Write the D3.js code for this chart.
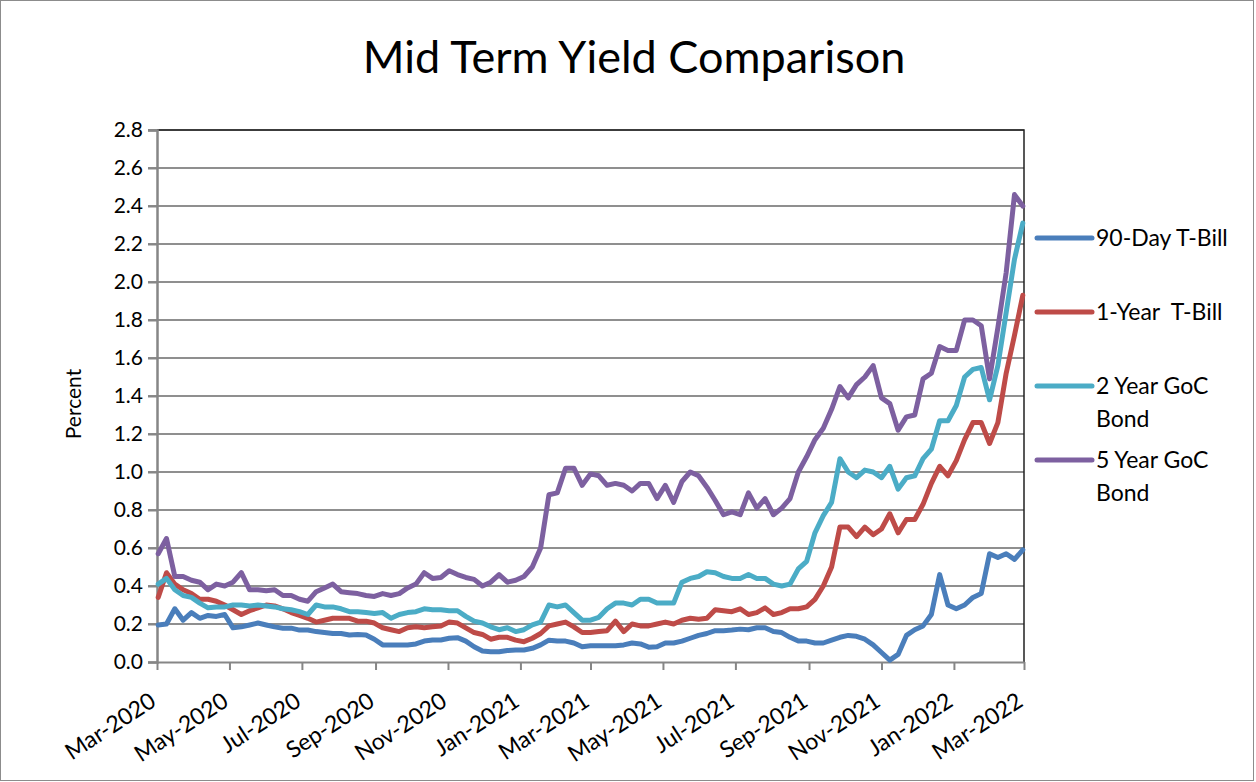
<!DOCTYPE html>
<html>
<head>
<meta charset="utf-8">
<script src="https://cdn.jsdelivr.net/npm/d3@7"></script>
<style>
	body { margin: 0; background: #ffffff; }
	text { font-family: Lato, "Open Sans", sans-serif; fill: #000000; }
</style>
</head>
<body>
<div id="vis"></div>
<script>
// mid term yield comparison - line chart

// declare constants
const FRAME_HEIGHT = 782;
const FRAME_WIDTH = 1256;
const MARGINS = {left: 157, right: 232,
				top: 130, bottom: 120};

const VIS_HEIGHT = FRAME_HEIGHT - MARGINS.top - MARGINS.bottom;
const VIS_WIDTH = FRAME_WIDTH - MARGINS.left - MARGINS.right;

// weekly observation dates (mondays), mar 2020 - feb 2022
const WEEKS = d3.timeDay.range(new Date(2020, 2, 2), new Date(2022, 2, 1), 7);

// yields in percent, one value per week
const T_BILL_90 = [
	0.195, 0.20, 0.28, 0.22, 0.26, 0.23, 0.245, 0.24, 0.25, 0.18,
	0.185, 0.195, 0.205, 0.195, 0.185, 0.178, 0.178, 0.168, 0.168, 0.16,
	0.155, 0.15, 0.15, 0.142, 0.145, 0.142, 0.12, 0.09, 0.09, 0.09,
	0.09, 0.095, 0.11, 0.116, 0.116, 0.125, 0.128, 0.11, 0.08, 0.058,
	0.054, 0.054, 0.06, 0.063, 0.063, 0.072, 0.09, 0.115, 0.11, 0.11,
	0.10, 0.08, 0.085, 0.085, 0.085, 0.085, 0.09, 0.10, 0.095, 0.078,
	0.08, 0.10, 0.10, 0.11, 0.125, 0.14, 0.15, 0.165, 0.165, 0.168,
	0.173, 0.17, 0.18, 0.18, 0.16, 0.155, 0.13, 0.11, 0.11, 0.10,
	0.10, 0.115, 0.13, 0.14, 0.135, 0.12, 0.09, 0.05, 0.01, 0.04,
	0.14, 0.17, 0.19, 0.25, 0.46, 0.30, 0.28, 0.30, 0.34, 0.36,
	0.57, 0.55, 0.57, 0.54, 0.59];

const T_BILL_1Y = [
	0.34, 0.47, 0.41, 0.38, 0.36, 0.33, 0.33, 0.32, 0.30, 0.275,
	0.25, 0.27, 0.285, 0.30, 0.295, 0.28, 0.26, 0.245, 0.23, 0.21,
	0.22, 0.23, 0.23, 0.23, 0.215, 0.215, 0.205, 0.18, 0.17, 0.16,
	0.18, 0.185, 0.18, 0.185, 0.19, 0.21, 0.205, 0.18, 0.155, 0.145,
	0.12, 0.13, 0.13, 0.115, 0.107, 0.125, 0.15, 0.19, 0.20, 0.21,
	0.185, 0.155, 0.155, 0.16, 0.165, 0.215, 0.16, 0.20, 0.19, 0.19,
	0.20, 0.21, 0.20, 0.22, 0.23, 0.225, 0.23, 0.275, 0.27, 0.265,
	0.28, 0.25, 0.26, 0.285, 0.25, 0.26, 0.28, 0.28, 0.29, 0.33,
	0.40, 0.50, 0.71, 0.71, 0.66, 0.71, 0.67, 0.70, 0.78, 0.68,
	0.75, 0.75, 0.83, 0.94, 1.03, 0.98, 1.06, 1.17, 1.26, 1.26,
	1.15, 1.26, 1.52, 1.72, 1.93];

const GOC_2Y = [
	0.41, 0.44, 0.38, 0.35, 0.34, 0.31, 0.285, 0.29, 0.29, 0.30,
	0.30, 0.295, 0.30, 0.295, 0.29, 0.28, 0.275, 0.265, 0.25, 0.30,
	0.29, 0.29, 0.28, 0.265, 0.265, 0.26, 0.255, 0.26, 0.23, 0.25,
	0.26, 0.265, 0.28, 0.275, 0.275, 0.27, 0.27, 0.24, 0.215, 0.205,
	0.185, 0.17, 0.18, 0.16, 0.17, 0.195, 0.21, 0.30, 0.29, 0.30,
	0.26, 0.22, 0.22, 0.235, 0.28, 0.31, 0.31, 0.30, 0.33, 0.33,
	0.31, 0.31, 0.31, 0.42, 0.44, 0.45, 0.475, 0.47, 0.45, 0.44,
	0.44, 0.46, 0.44, 0.44, 0.41, 0.40, 0.41, 0.49, 0.53, 0.68,
	0.77, 0.84, 1.07, 1.00, 0.97, 1.01, 1.00, 0.97, 1.03, 0.91,
	0.97, 0.98, 1.07, 1.12, 1.27, 1.27, 1.35, 1.50, 1.54, 1.55,
	1.38, 1.56, 1.84, 2.12, 2.31];

const GOC_5Y = [
	0.57, 0.65, 0.45, 0.45, 0.43, 0.42, 0.38, 0.41, 0.40, 0.42,
	0.47, 0.38, 0.38, 0.375, 0.38, 0.35, 0.35, 0.33, 0.32, 0.37,
	0.39, 0.41, 0.37, 0.365, 0.36, 0.35, 0.345, 0.36, 0.35, 0.36,
	0.39, 0.41, 0.47, 0.44, 0.445, 0.48, 0.46, 0.445, 0.435, 0.40,
	0.42, 0.46, 0.42, 0.43, 0.45, 0.50, 0.60, 0.88, 0.89, 1.02,
	1.02, 0.93, 0.99, 0.98, 0.93, 0.94, 0.93, 0.90, 0.94, 0.94,
	0.86, 0.93, 0.84, 0.95, 1.00, 0.98, 0.92, 0.85, 0.775, 0.79,
	0.775, 0.89, 0.81, 0.86, 0.775, 0.81, 0.86, 1.00, 1.08, 1.17,
	1.23, 1.33, 1.45, 1.39, 1.46, 1.50, 1.56, 1.39, 1.36, 1.22,
	1.29, 1.30, 1.49, 1.52, 1.66, 1.64, 1.64, 1.80, 1.80, 1.77,
	1.49, 1.76, 2.05, 2.46, 2.40];

const SERIES_NAMES = [["90-Day T-Bill"], ["1-Year  T-Bill"], ["2 Year GoC", "Bond"], ["5 Year GoC", "Bond"]];
const SERIES_COLORS = ["#4a7ebb", "#be4b48", "#4bacc6", "#7d60a0"];
const Y_TICKS = [0, 0.2, 0.4, 0.6, 0.8, 1.0, 1.2, 1.4, 1.6, 1.8, 2.0, 2.2, 2.4, 2.6, 2.8];

const SERIES = [T_BILL_90, T_BILL_1Y, GOC_2Y, GOC_5Y].map((vals, i) => {
	return {names: SERIES_NAMES[i], color: SERIES_COLORS[i], values: vals};
});

// frame
const FRAME = d3.select("#vis")
				.append("svg")
					.attr("width", FRAME_WIDTH)
					.attr("height", FRAME_HEIGHT);

FRAME.append("rect")
		.attr("x", 0.5).attr("y", 0.5)
		.attr("width", FRAME_WIDTH - 3).attr("height", FRAME_HEIGHT - 2)
		.attr("fill", "#ffffff")
		.attr("stroke", "#8c8c8c");

// title
FRAME.append("text")
		.attr("x", 634)
		.attr("y", 73)
		.attr("text-anchor", "middle")
		.style("font-size", "45px")
		.text("Mid Term Yield Comparison");

// scaling functions
const X_SCALE = d3.scaleTime()
					.domain([new Date(2020, 2, 1), new Date(2022, 2, 1)])
					.range([0, VIS_WIDTH]);

const Y_SCALE = d3.scaleLinear()
					.domain([0, 2.8])
					.range([VIS_HEIGHT, 0]);

const PLOT = FRAME.append("g")
				.attr("transform", "translate(" + MARGINS.left + "," + MARGINS.top + ")");

// gridlines
PLOT.selectAll(".grid")
	.data(Y_TICKS.slice(1))
	.enter().append("line")
		.attr("class", "grid")
		.attr("x1", -9)
		.attr("x2", VIS_WIDTH)
		.attr("y1", d => Y_SCALE(d))
		.attr("y2", d => Y_SCALE(d))
		.attr("stroke", "#8f8f8f")
		.attr("stroke-width", 2);

// plot area border (top and right)
PLOT.append("path")
	.attr("d", "M0," + Y_SCALE(2.8) + "H" + VIS_WIDTH + "V" + VIS_HEIGHT)
	.attr("fill", "none")
	.attr("stroke", "#222222")
	.attr("stroke-width", 1.5);

// y-axis
const yAxis = PLOT.append("g")
	.call(d3.axisLeft(Y_SCALE)
			.tickValues(Y_TICKS)
			.tickFormat(d3.format(".1f"))
			.tickSize(9)
			.tickPadding(5));
yAxis.select(".domain").attr("stroke", "#868686").attr("stroke-width", 2.5);
yAxis.selectAll(".tick line").attr("stroke", "#868686").attr("stroke-width", 2);
yAxis.selectAll(".tick text")
		.attr("fill", "#000000")
		.style("font-size", "21px")
		.style("font-family", "Lato, sans-serif");

// x-axis
const xAxis = PLOT.append("g")
	.attr("transform", "translate(0," + VIS_HEIGHT + ")")
	.call(d3.axisBottom(X_SCALE)
			.ticks(d3.timeMonth.every(2))
			.tickFormat(d3.timeFormat("%b-%Y"))
			.tickSizeInner(8)
			.tickSizeOuter(0));
xAxis.select(".domain").attr("stroke", "#868686").attr("stroke-width", 2);
xAxis.selectAll(".tick line").attr("stroke", "#868686").attr("stroke-width", 2);
xAxis.selectAll(".tick text")
		.attr("fill", "#000000")
		.attr("text-anchor", "end")
		.attr("x", 0).attr("y", 0).attr("dy", null)
		.attr("transform", "translate(0,43) rotate(-33)")
		.style("font-size", "23px")
		.style("font-family", "Lato, sans-serif");

// axis title
FRAME.append("text")
		.attr("transform", "translate(81,404) rotate(-90)")
		.attr("text-anchor", "middle")
		.style("font-size", "21px")
		.text("Percent");

// lines
const LINE = d3.line()
				.x((d, i) => X_SCALE(WEEKS[i]))
				.y(d => Y_SCALE(d));

PLOT.selectAll(".series")
	.data(SERIES)
	.enter().append("path")
		.attr("class", "series")
		.attr("d", d => LINE(d.values))
		.attr("fill", "none")
		.attr("stroke", d => d.color)
		.attr("stroke-width", 5)
		.attr("stroke-linejoin", "round")
		.attr("stroke-linecap", "round");

// legend
const LEGEND_Y = [238, 312, 386, 460];
const legend = FRAME.selectAll(".legend")
				.data(SERIES)
				.enter().append("g")
					.attr("class", "legend")
					.attr("transform", (d, i) => "translate(1037," + LEGEND_Y[i] + ")");

legend.append("line")
		.attr("x1", 0).attr("x2", 55)
		.attr("stroke", d => d.color)
		.attr("stroke-width", 5)
		.attr("stroke-linecap", "round");

legend.each(function(d) {
	const t = d3.select(this).append("text")
				.attr("x", 59)
				.attr("y", 8)
				.style("font-size", "23px")
				.style("white-space", "pre");
	d.names.forEach((n, j) => {
		t.append("tspan")
			.attr("x", 59)
			.attr("y", 8 + j * 33)
			.text(n);
	});
});
</script>
</body>
</html>
